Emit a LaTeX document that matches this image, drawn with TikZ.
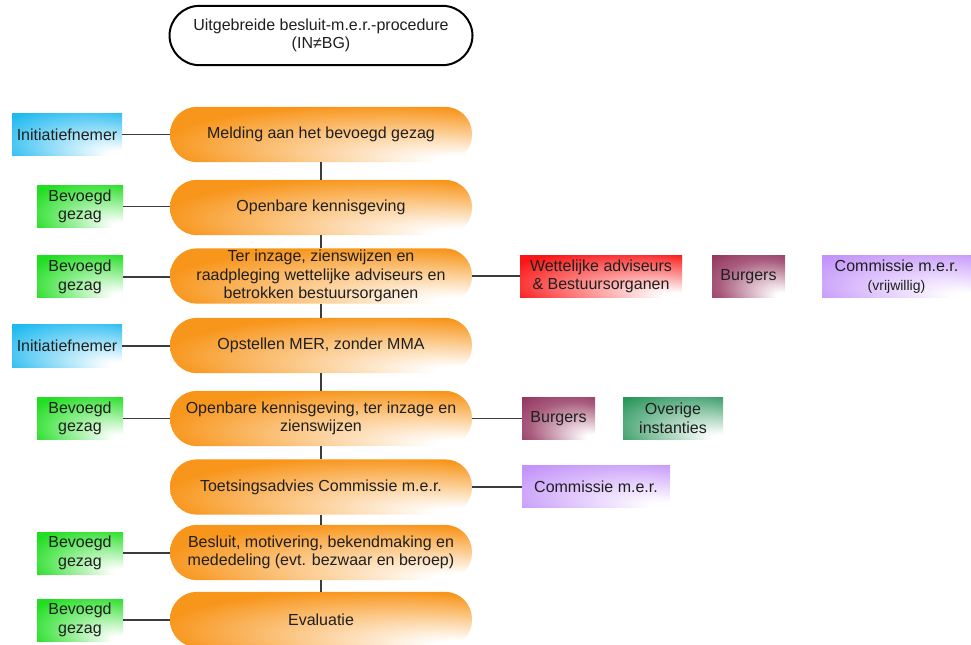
\documentclass[tikz,border=0pt]{standalone}
\usepackage{fontspec}
\setmainfont{Liberation Sans}
\definecolor{orangeC}{RGB}{248,150,28}
\definecolor{cyanC}{RGB}{30,185,240}
\definecolor{greenC}{RGB}{34,222,34}
\definecolor{redC}{RGB}{250,22,22}
\definecolor{burgC}{RGB}{140,38,82}
\definecolor{tealC}{RGB}{42,150,92}
\definecolor{lavC}{RGB}{195,146,250}
\definecolor{lineC}{RGB}{60,60,60}
% radial fade: white at the lower right corner, full colour elsewhere
\newcommand\mkfade[3]{\pgfdeclareradialshading{#1}{\pgfpoint{25bp}{-25bp}}{color(0bp)=(white); color(4bp)=(white); color(#3bp)=(#2); color(50bp)=(#2)}}
\mkfade{fadeO}{orangeC}{34}
\mkfade{fadeCy}{cyanC}{40}
\mkfade{fadeGr}{greenC}{38}
\mkfade{fadeRd}{redC}{38}
\pgfdeclareradialshading{fadeBu}{\pgfpoint{25bp}{-25bp}}{color(0bp)=(white); color(4bp)=(white); color(30bp)=(burgC!75!white); color(46bp)=(burgC); color(50bp)=(burgC)}
\mkfade{fadeTe}{tealC}{40}
\mkfade{fadeLa}{lavC}{40}
\tikzset{
  txt/.style={font=\fontsize{12pt}{14pt}\selectfont, text=black!88, align=center, inner sep=0pt},
  stage/.style={txt, rounded corners=20.25pt, minimum width=226.5pt, minimum height=41.5pt, shading=fadeO},
  actor/.style={txt, minimum height=31.5pt, shading=#1},
  conn/.style={draw=lineC, line width=1.1pt},
}
\begin{document}
\begin{tikzpicture}[x=0.75pt,y=-0.75pt]
\useasboundingbox (0,0) rectangle (971,645);
% title
\node[txt, draw=black, line width=1.5pt, fill=white, rounded corners=22.5pt, minimum width=227.25pt, minimum height=44.5pt] (T) at (321,35.5) {Uitgebreide besluit-m.e.r.-procedure\\(IN≠BG)};
% stages
\node[stage] (S1) at (321,134.5) {Melding aan het bevoegd gezag};
\node[stage] (S2) at (321,207.5) {Openbare kennisgeving};
\node[stage] (S3) at (321,276) {Ter inzage, zienswijzen en\\raadpleging wettelijke adviseurs en\\betrokken bestuursorganen};
\node[stage] (S4) at (321,345.5) {Opstellen MER, zonder MMA};
\node[stage] (S5) at (321,418.5) {Openbare kennisgeving, ter inzage en\\zienswijzen};
\node[stage] (S6) at (321,487) {Toetsingsadvies Commissie m.e.r.};
\node[stage] (S7) at (321,552.5) {Besluit, motivering, bekendmaking en\\mededeling (evt. bezwaar en beroep)};
\node[stage] (S8) at (321,619.5) {Evaluatie};
% left actors
\node[actor=fadeCy, minimum width=82.5pt] (L1) at (67,134.5) {Initiatiefnemer};
\node[actor=fadeGr, minimum width=64.5pt] (L2) at (80,206.5) {Bevoegd\\gezag};
\node[actor=fadeGr, minimum width=64.5pt] (L3) at (80,277) {Bevoegd\\gezag};
\node[actor=fadeCy, minimum width=82.5pt] (L4) at (67,346) {Initiatiefnemer};
\node[actor=fadeGr, minimum width=64.5pt] (L5) at (80,418.5) {Bevoegd\\gezag};
\node[actor=fadeGr, minimum width=64.5pt] (L7) at (80,553) {Bevoegd\\gezag};
\node[actor=fadeGr, minimum width=64.5pt] (L8) at (80,620) {Bevoegd\\gezag};
% right actors
\node[actor=fadeRd, minimum width=121.5pt] (R3a) at (601,276.5) {Wettelijke adviseurs\\\& Bestuursorganen};
\node[actor=fadeBu, minimum width=54.75pt] (R3b) at (748.5,276.5) {Burgers};
\node[actor=fadeLa, minimum width=111.75pt] (R3c) at (896.5,276.5) {Commissie m.e.r.\\{\fontsize{10.5pt}{13pt}\selectfont(vrijwillig)}};
\node[actor=fadeBu, minimum width=54.75pt] (R5a) at (558.5,418.5) {Burgers};
\node[actor=fadeTe, minimum width=75pt] (R5b) at (673,418.5) {Overige\\instanties};
\node[actor=fadeLa, minimum width=111pt] (R6) at (596,486.5) {Commissie m.e.r.};
% vertical connectors
\foreach \a/\b in {S1/S2,S2/S3,S3/S4,S4/S5,S5/S6,S6/S7,S7/S8}
  \draw[conn] (\a.south) -- (\b.north);
% left connectors
\foreach \l/\s in {L1/S1,L2/S2,L3/S3,L4/S4,L5/S5,L7/S7,L8/S8}
  \draw[conn] (\l.east) -- (\l.east -| \s.west);
% right connectors
\draw[conn] (S3.east) -- (S3.east -| R3a.west);
\draw[conn] (S5.east) -- (S5.east -| R5a.west);
\draw[conn] (S6.east) -- (S6.east -| R6.west);
\end{tikzpicture}
\end{document}
